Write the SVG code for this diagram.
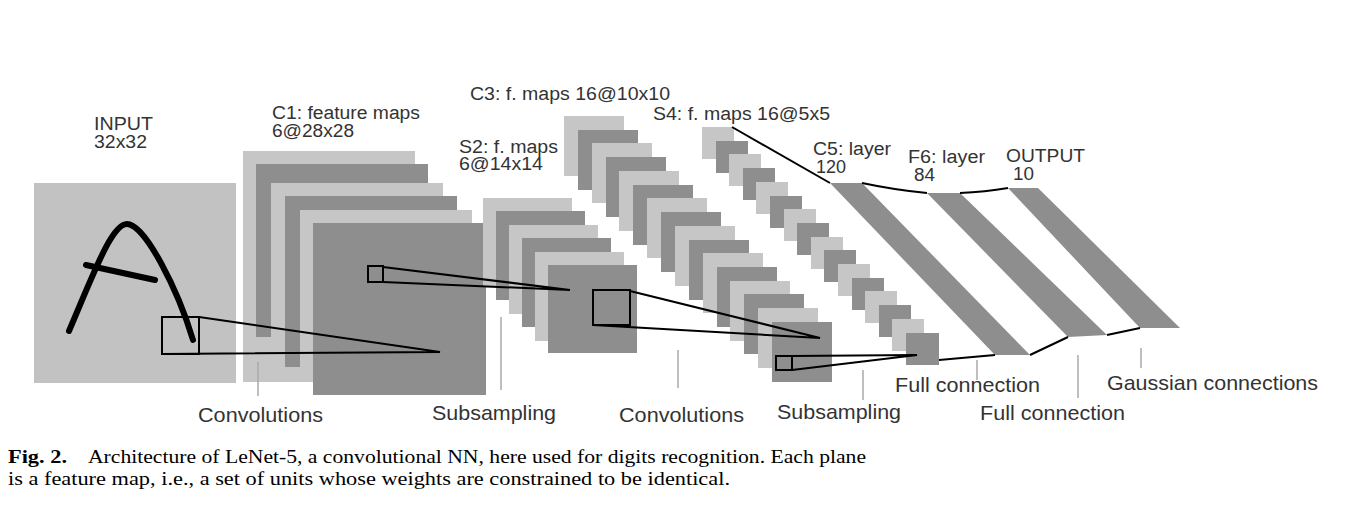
<svg xmlns="http://www.w3.org/2000/svg" width="1354" height="507" viewBox="0 0 1354 507">
<style>
.l{fill:#c6c6c6}.d{fill:#8e8e8e}
.t{font-family:"Liberation Sans",Arial,sans-serif;fill:#333;font-size:18px}
.b{font-family:"Liberation Sans",Arial,sans-serif;fill:#333;font-size:21px}
.c{font-family:"Liberation Serif","Times New Roman",serif;fill:#000;font-size:19px}
.k{stroke:#000;stroke-width:2;fill:none}
.tick{stroke:#aaa;stroke-width:1.5}
</style>
<rect width="1354" height="507" fill="#fff"/>
<g id="input">
<rect x="34" y="183" width="202" height="200" fill="#c2c2c2"/>
<path d="M69,331 C95,270 112,224 127,224 C145,224 178,290 193,340" stroke="#000" stroke-width="6" fill="none" stroke-linecap="round"/>
<path d="M86,265 L155,280" stroke="#000" stroke-width="6" stroke-linecap="round"/>
<text class="t" x="94" y="130" textLength="59" lengthAdjust="spacingAndGlyphs">INPUT</text>
<text class="t" x="94" y="148" textLength="53" lengthAdjust="spacingAndGlyphs">32x32</text>
</g>
<g id="c1">
<rect class="l" x="243" y="151" width="172" height="231"/>
<rect class="d" x="256" y="164" width="172" height="173"/>
<rect class="l" x="271" y="183" width="172" height="154"/>
<rect class="d" x="285" y="196" width="172" height="171"/>
<rect class="l" x="300" y="210" width="172" height="172"/>
<rect class="d" x="313" y="223" width="173" height="172"/>
<text class="t" x="272" y="119" textLength="148" lengthAdjust="spacingAndGlyphs">C1: feature maps</text>
<text class="t" x="272" y="137" textLength="82" lengthAdjust="spacingAndGlyphs">6@28x28</text>
</g>
<g id="s2">
<rect class="l" x="483" y="198" width="89" height="89"/>
<rect class="d" x="496" y="211" width="89" height="89"/>
<rect class="l" x="509" y="225" width="89" height="89"/>
<rect class="d" x="522" y="238" width="89" height="89"/>
<rect class="l" x="535" y="252" width="89" height="89"/>
<rect class="d" x="548" y="265" width="89" height="88"/>
<text class="t" x="459" y="153" textLength="99" lengthAdjust="spacingAndGlyphs">S2: f. maps</text>
<text class="t" x="459" y="170" textLength="84" lengthAdjust="spacingAndGlyphs">6@14x14</text>
</g>
<g id="c3">
<rect class="l" x="564" y="116" width="60" height="60"/>
<rect class="d" x="578" y="130" width="60" height="60"/>
<rect class="l" x="592" y="143" width="60" height="60"/>
<rect class="d" x="606" y="157" width="60" height="60"/>
<rect class="l" x="619" y="171" width="60" height="60"/>
<rect class="d" x="633" y="185" width="60" height="60"/>
<rect class="l" x="647" y="198" width="60" height="60"/>
<rect class="d" x="661" y="212" width="60" height="60"/>
<rect class="l" x="675" y="226" width="60" height="60"/>
<rect class="d" x="689" y="240" width="60" height="60"/>
<rect class="l" x="703" y="253" width="60" height="60"/>
<rect class="d" x="717" y="267" width="60" height="60"/>
<rect class="l" x="730" y="281" width="60" height="60"/>
<rect class="d" x="744" y="294" width="60" height="60"/>
<rect class="l" x="758" y="308" width="60" height="60"/>
<rect class="d" x="772" y="322" width="60" height="60"/>
<text class="t" x="470" y="100" textLength="200" lengthAdjust="spacingAndGlyphs">C3: f. maps 16@10x10</text>
</g>
<g id="s4">
<rect class="l" x="702" y="127" width="32" height="32"/>
<rect class="d" x="716" y="141" width="32" height="32"/>
<rect class="l" x="729" y="154" width="32" height="32"/>
<rect class="d" x="743" y="168" width="32" height="32"/>
<rect class="l" x="756" y="182" width="32" height="32"/>
<rect class="d" x="770" y="196" width="32" height="32"/>
<rect class="l" x="784" y="209" width="32" height="32"/>
<rect class="d" x="797" y="223" width="32" height="32"/>
<rect class="l" x="811" y="237" width="32" height="32"/>
<rect class="d" x="824" y="250" width="32" height="32"/>
<rect class="l" x="838" y="264" width="32" height="32"/>
<rect class="d" x="852" y="278" width="32" height="32"/>
<rect class="l" x="865" y="291" width="32" height="32"/>
<rect class="d" x="879" y="305" width="32" height="32"/>
<rect class="l" x="892" y="319" width="32" height="32"/>
<rect class="d" x="906" y="333" width="33" height="32"/>
<text class="t" x="653" y="120" textLength="177" lengthAdjust="spacingAndGlyphs">S4: f. maps 16@5x5</text>
</g>
<g id="c5">
<polygon class="d" points="830,183 862,183 1030,355 995,355"/>
<text class="t" x="813" y="155" textLength="78" lengthAdjust="spacingAndGlyphs">C5: layer</text>
<text class="t" x="816" y="173" textLength="30" lengthAdjust="spacingAndGlyphs">120</text>
</g>
<g id="f6">
<polygon class="d" points="927,193 960,193 1107,335 1068,337"/>
<text class="t" x="908" y="163" textLength="77" lengthAdjust="spacingAndGlyphs">F6: layer</text>
<text class="t" x="914" y="181" textLength="21" lengthAdjust="spacingAndGlyphs">84</text>
</g>
<g id="output">
<polygon class="d" points="1008,188 1038,188 1180,328 1140,328"/>
<text class="t" x="1006" y="162" textLength="79" lengthAdjust="spacingAndGlyphs">OUTPUT</text>
<text class="t" x="1013" y="180" textLength="21" lengthAdjust="spacingAndGlyphs">10</text>
</g>
<g id="connectors">
<rect x="162" y="317" width="37" height="37" class="k"/>
<path class="k" d="M199,317 L440,352 L162,354"/>
<rect x="368" y="266" width="15" height="16" class="k"/>
<path class="k" d="M383,267 L570,290 L383,282"/>
<rect x="593" y="290" width="37" height="35" class="k"/>
<path class="k" d="M630,291 L820,338 L593,325"/>
<rect x="776" y="356" width="16" height="14" class="k"/>
<path class="k" d="M792,356 L917,355 L792,370"/>
<path class="k" d="M732,127 L830,183"/>
<path class="k" d="M862,183 Q895,190 927,193 M960,193 Q985,192 1008,188"/>
<path class="k" d="M939,360 L995,355 M1030,355 L1068,337 M1107,335 L1140,328"/>
<line class="tick" x1="258" y1="362" x2="258" y2="396"/>
<line class="tick" x1="501" y1="317" x2="501" y2="390"/>
<line class="tick" x1="678" y1="350" x2="678" y2="388"/>
<line class="tick" x1="863" y1="370" x2="863" y2="400"/>
<line class="tick" x1="977" y1="360" x2="977" y2="380"/>
<line class="tick" x1="1078" y1="355" x2="1078" y2="398"/>
<line class="tick" x1="1141" y1="348" x2="1141" y2="368"/>
</g>
<g id="labels">
<text class="b" x="198" y="422" textLength="125" lengthAdjust="spacingAndGlyphs">Convolutions</text>
<text class="b" x="432" y="420" textLength="124" lengthAdjust="spacingAndGlyphs">Subsampling</text>
<text class="b" x="619" y="422" textLength="125" lengthAdjust="spacingAndGlyphs">Convolutions</text>
<text class="b" x="777" y="419" textLength="124" lengthAdjust="spacingAndGlyphs">Subsampling</text>
<text class="b" x="895" y="392" textLength="145" lengthAdjust="spacingAndGlyphs">Full connection</text>
<text class="b" x="980" y="420" textLength="145" lengthAdjust="spacingAndGlyphs">Full connection</text>
<text class="b" x="1107" y="390" textLength="211" lengthAdjust="spacingAndGlyphs">Gaussian connections</text>
</g>
<g id="caption">
<text class="c" x="8" y="463" font-weight="bold" textLength="59" lengthAdjust="spacingAndGlyphs">Fig. 2.</text>
<text class="c" x="88" y="463" textLength="778" lengthAdjust="spacingAndGlyphs">Architecture of LeNet-5, a convolutional NN, here used for digits recognition. Each plane</text>
<text class="c" x="8" y="485" textLength="722" lengthAdjust="spacingAndGlyphs">is a feature map, i.e., a set of units whose weights are constrained to be identical.</text>
</g>
</svg>
